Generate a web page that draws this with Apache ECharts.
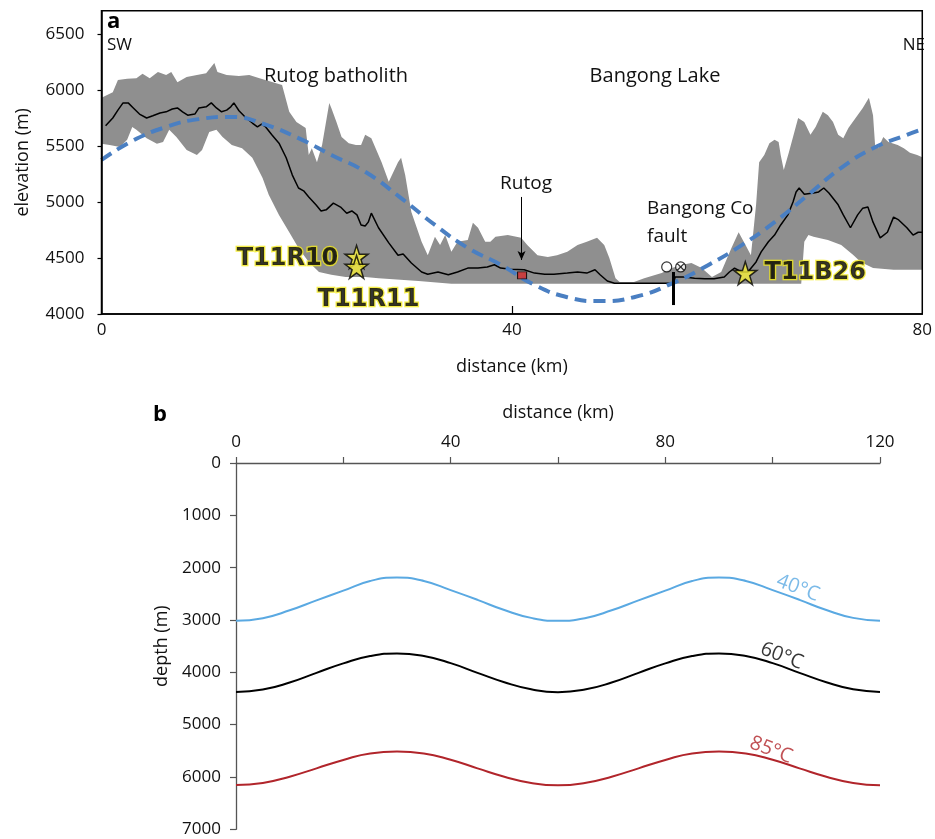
<!DOCTYPE html>
<html>
<head>
<meta charset="utf-8">
<script src="https://cdn.jsdelivr.net/npm/echarts@6/dist/echarts.min.js"></script>
<style>
html, body { margin: 0; padding: 0; background: #fff; }
#chart { width: 935px; height: 839px; }
</style>
</head>
<body>
<div id="chart"></div>
<script>
// ---------- Panel a: topographic swath profile (distance km, elevation m) ----------
const swathMax = [
  [0,5930],[1.1,5980],[1.6,6090],[2.5,6100],[3.4,6105],[4.0,6145],[4.7,6105],[5.5,6160],[6.3,6135],
  [6.8,6160],[7.4,6070],[8.3,6115],[9.3,6135],[10.2,6150],[11.0,6240],[11.3,6160],[12.2,6135],
  [13.4,6125],[14.4,6135],[15.4,6105],[17.6,6045],[18.3,5805],[19.0,5715],[19.9,5660],[20.2,5420],
  [20.5,5480],[21.0,5355],[21.5,5510],[22.2,5885],[22.4,5840],[22.9,5715],[23.4,5580],[24.1,5525],
  [24.8,5510],[25.3,5510],[25.7,5600],[26.3,5570],[27.3,5355],[28.0,5180],[28.9,5355],[29.2,5395],
  [29.6,5240],[30.2,4910],[31.2,4645],[31.8,4525],[32.5,4690],[33.0,4615],[33.5,4705],[34.1,4555],
  [34.7,4645],[35.7,4660],[36.2,4815],[36.7,4770],[37.4,4645],[37.9,4645],[38.4,4690],[39.6,4705],
  [40.9,4680],[41.5,4615],[42.5,4525],[43.5,4510],[44.4,4525],[45.4,4555],[46.4,4615],[47.3,4645],
  [48.3,4680],[49.0,4615],[49.5,4500],[50.1,4320],[50.5,4285],[51.9,4285],[52.9,4320],[54.6,4365],
  [55.6,4410],[56.6,4440],[57.5,4455],[58.5,4410],[59.5,4330],[60.4,4375],[61.4,4590],[62.1,4730],
  [62.6,4645],[63.3,4525],[63.8,4975],[64.1,5355],[64.6,5420],[65.1,5525],[65.6,5555],[66.0,5535],
  [66.2,5420],[66.5,5285],[67.0,5445],[67.9,5750],[68.5,5715],[69.1,5600],[69.6,5670],[70.3,5805],
  [70.8,5775],[71.3,5715],[71.8,5600],[72.3,5570],[72.8,5660],[73.5,5750],[74.2,5840],[74.8,5930],
  [75.2,5775],[75.4,5510],[75.7,5480],[76.2,5580],[76.7,5535],[77.6,5510],[78.2,5480],[78.8,5440],
  [79.5,5420],[80,5400]
];
const swathMin = [
  [0,5520],[0.8,5510],[1.8,5490],[2.5,5555],[3.0,5670],[3.4,5645],[4.4,5570],[5.4,5520],[6.0,5535],
  [6.6,5645],[7.3,5580],[8.3,5465],[9.3,5420],[9.8,5465],[10.5,5625],[11.2,5645],[11.8,5580],
  [12.7,5510],[13.7,5480],[14.7,5395],[15.7,5215],[16.3,5065],[17.3,4885],[18.3,4730],[19.2,4590],
  [20.2,4465],[21.2,4375],[22.4,4350],[23.8,4330],[25.7,4330],[27.0,4320],[30.9,4295],[34.1,4270],
  [68.2,4270],[68.5,4645],[68.9,4705],[69.4,4690],[70.8,4660],[72.1,4615],[73.3,4525],[74.0,4465],
  [75.2,4410],[77.2,4395],[80,4395]
];
const swathMean = [
  [0.4,5680],[1.1,5750],[1.6,5820],[2.1,5885],[2.6,5885],[3.1,5840],[3.7,5785],[4.4,5750],[5.0,5770],
  [5.7,5795],[6.3,5805],[6.9,5830],[7.4,5840],[7.9,5805],[8.4,5775],[9.1,5785],[9.5,5840],[10.2,5850],
  [10.7,5885],[11.2,5840],[11.7,5805],[12.2,5820],[12.6,5850],[12.9,5885],[13.4,5815],[14.1,5750],
  [14.7,5705],[15.2,5670],[15.6,5695],[16.0,5670],[16.6,5600],[17.3,5525],[18.0,5395],[18.6,5240],
  [19.2,5125],[19.7,5100],[20.2,5045],[20.9,4975],[21.4,4920],[21.9,4930],[22.6,4990],[23.3,4955],
  [23.9,4900],[24.4,4920],[24.9,4885],[25.3,4795],[25.7,4785],[26.0,4820],[26.3,4900],[27.0,4770],
  [28.0,4635],[28.9,4525],[29.4,4535],[30.2,4455],[31.2,4375],[31.8,4355],[32.8,4375],[33.8,4350],
  [34.7,4375],[35.7,4410],[36.7,4410],[37.6,4420],[38.3,4440],[38.9,4410],[39.9,4400],[41.2,4395],
  [42.2,4365],[43.2,4355],[44.1,4355],[45.4,4365],[46.4,4375],[47.3,4365],[48.1,4395],[48.6,4350],
  [49.3,4295],[50.0,4275],[55.8,4275],[55.9,4330],[56.8,4330],[57.8,4320],[58.8,4315],[59.7,4315],
  [60.7,4330],[61.2,4375],[61.7,4410],[62.4,4375],[63.0,4375],[63.8,4465],[64.3,4555],[65.0,4645],
  [65.6,4705],[66.2,4795],[66.9,4885],[67.4,5000],[67.7,5090],[68.0,5125],[68.5,5070],[69.4,5080],
  [69.9,5090],[70.4,5125],[70.9,5080],[71.8,4975],[72.3,4885],[73.0,4770],[73.7,4885],[74.2,4945],
  [74.7,4955],[75.2,4820],[75.9,4680],[76.6,4730],[77.2,4865],[77.7,4840],[78.5,4770],[79.1,4705],
  [79.6,4730],[80,4730]
];
const wavyLine = [
  [0,5375],[3.0,5545],[6.3,5670],[9.5,5740],[12.7,5760],[16.0,5690],[19.2,5570],[22.4,5420],
  [25.7,5270],[29.2,5035],[32.5,4795],[35.7,4590],[38.9,4440],[42.2,4260],[45.4,4150],[48.6,4115],
  [51.9,4150],[55.9,4285],[59.2,4440],[62.4,4615],[65.6,4820],[68.9,5065],[72.1,5305],[75.2,5480],
  [78.5,5600],[80,5650]
];
// samples: name, distance, elevation
const samples = [
  ['T11R10', 24.86, 4510],
  ['T11R11', 24.86, 4420],
  ['T11B26', 62.75, 4365]
];
const samplingBox = [[23.69, 5172], [25.95, 4274]];
const rutogTown = [40.99, 4345];
const faultTrace = [[55.77, 4375], [55.77, 4080]];
const rutogArrow = [[40.94, 5045], [40.94, 4482]];
const faultSense = [[55.09, 4420], [56.45, 4420]];
const elevTicks = [4000, 4500, 5000, 5500, 6000, 6500];
const distTicksA = [0, 40, 80];

// ---------- Panel b: isotherm depths (distance km, depth m) ----------
const distB = [0,5,10,15,20,25,30,35,40,45,50,55,60,65,70,75,80,85,90,95,100,105,110,115,120];
const iso40 = [3015,2965,2815,2625,2440,2255,2190,2255,2430,2615,2810,2960,3015,2965,2815,2625,2440,2255,2190,2255,2430,2615,2810,2960,3015];
const iso60 = [4375,4330,4195,4010,3830,3690,3640,3690,3825,4010,4190,4325,4380,4330,4195,4010,3830,3690,3640,3690,3825,4010,4190,4325,4375];
const iso85 = [6155,6115,5995,5835,5675,5550,5515,5550,5670,5835,5995,6115,6160,6115,5995,5835,5675,5550,5515,5550,5670,5835,5995,6115,6160];
const isoLabels = [
  ['40°C', 104.7, 2389, '#5aa9e2'],
  ['60°C', 101.7, 3688, '#000000'],
  ['85°C', 99.7, 5484, '#b1252b']
];

const FONT = 'Open Sans';
const SAMPLE_FONT = 'DejaVu Sans';
const STAR = 'path://M50,0 L61.8,35.1 L98.9,35.1 L68.9,56.9 L80.3,91.9 L50,70.2 L19.7,91.9 L31.1,56.9 L1.1,35.1 L38.2,35.1 Z';
const OTIMES = 'path://M10,0 A10,10 0 1 1 9.99,0 Z M2.9,2.9 L17.1,17.1 M17.1,2.9 L2.9,17.1';

const chart = echarts.init(document.getElementById('chart'), null, { renderer: 'canvas' });

const labelPos = { 'T11R10': 'left', 'T11R11': 'bottom', 'T11B26': 'right' };
const labelOff = { 'T11R10': [-1, 2], 'T11R11': [12, 4], 'T11B26': [2, 0] };
const plain = v => String(v);

const option = {
  animation: false,
  textStyle: { fontFamily: FONT },
  grid: [
    { left: 101.5, top: 10.7, width: 825.5, height: 303.3, show: true, borderColor: '#000', borderWidth: 1.5, z: 10 },
    { left: 236, top: 463, width: 644, height: 366.3 }
  ],
  xAxis: [
    {
      type: 'value', gridIndex: 0, min: 0, max: 80, position: 'bottom', z: 10,
      axisLine: { lineStyle: { color: '#000', width: 1.5 } },
      axisTick: { inside: true, length: 8, customValues: [40], lineStyle: { color: '#000', width: 1.2 } },
      axisLabel: { customValues: distTicksA, margin: 8, fontSize: 17, color: '#111', fontFamily: FONT, formatter: plain },
      splitLine: { show: false },
      name: 'distance (km)', nameLocation: 'middle', nameGap: 44,
      nameTextStyle: { fontSize: 18, color: '#111', fontFamily: FONT }
    },
    {
      type: 'value', gridIndex: 1, min: 0, max: 120, interval: 40, position: 'top',
      axisLine: { lineStyle: { color: '#555', width: 1.3 } },
      axisTick: { length: 6, lineStyle: { color: '#555', width: 1.2 } },
      minorTick: { show: true, splitNumber: 2, length: 6, lineStyle: { color: '#555', width: 1.2 } },
      axisLabel: { margin: 12, fontSize: 17, color: '#111', fontFamily: FONT, formatter: plain },
      splitLine: { show: false },
      name: 'distance (km)', nameLocation: 'middle', nameGap: 41,
      nameTextStyle: { fontSize: 18, color: '#111', fontFamily: FONT }
    }
  ],
  yAxis: [
    {
      type: 'value', gridIndex: 0, min: 4000, max: 6708, interval: 500, z: 10,
      axisLine: { show: true, lineStyle: { color: '#000', width: 1.5 } },
      axisTick: { show: true, length: 4, customValues: elevTicks, lineStyle: { color: '#000', width: 1.2 } },
      axisLabel: {
        customValues: elevTicks, margin: 17, fontSize: 17, color: '#111', fontFamily: FONT,
        formatter: v => (v % 500 === 0 ? String(v) : '')
      },
      splitLine: { show: false },
      name: 'elevation (m)', nameLocation: 'middle', nameGap: 70, nameRotate: 90,
      nameTextStyle: { fontSize: 18, color: '#111', fontFamily: FONT }
    },
    {
      type: 'value', gridIndex: 1, min: 0, max: 7000, interval: 1000, inverse: true,
      axisLine: { show: true, lineStyle: { color: '#555', width: 1.3 } },
      axisTick: { show: true, length: 6, lineStyle: { color: '#555', width: 1.2 } },
      axisLabel: { margin: 15, fontSize: 17, color: '#111', fontFamily: FONT, formatter: plain },
      splitLine: { show: false },
      name: 'depth (m)', nameLocation: 'middle', nameGap: 64, nameRotate: 90,
      nameTextStyle: { fontSize: 18, color: '#111', fontFamily: FONT }
    }
  ],
  series: [
    {
      name: 'swath max', type: 'line', xAxisIndex: 0, yAxisIndex: 0, data: swathMax,
      symbol: 'none', silent: true, z: 1,
      lineStyle: { width: 0 }, areaStyle: { color: '#8f8f8f', opacity: 1, origin: 'start' }
    },
    {
      name: 'swath min', type: 'line', xAxisIndex: 0, yAxisIndex: 0, data: swathMin,
      symbol: 'none', silent: true, z: 2,
      lineStyle: { width: 0 }, areaStyle: { color: '#ffffff', opacity: 1, origin: 'start' }
    },
    {
      name: 'swath mean', type: 'line', xAxisIndex: 0, yAxisIndex: 0, data: swathMean,
      symbol: 'none', z: 3, lineStyle: { color: '#000', width: 1.5 },
      markArea: {
        silent: true,
        itemStyle: { color: 'rgba(0,0,0,0)', borderColor: '#000', borderWidth: 1.2 },
        data: [[{ coord: samplingBox[0] }, { coord: samplingBox[1] }]]
      },
      markLine: {
        silent: true, animation: false,
        label: { show: false },
        data: [
          [
            { coord: faultTrace[0], symbol: 'none', lineStyle: { color: '#000', width: 3, type: 'solid' } },
            { coord: faultTrace[1], symbol: 'none' }
          ],
          [
            { coord: rutogArrow[0], symbol: 'none', lineStyle: { color: '#000', width: 1, type: 'solid' } },
            { coord: rutogArrow[1], symbol: 'arrow', symbolSize: [6, 9] }
          ]
        ]
      }
    },
    {
      name: 'wave', type: 'line', xAxisIndex: 0, yAxisIndex: 0, data: wavyLine,
      symbol: 'none', smooth: true, z: 4,
      lineStyle: { color: '#4a7fc2', width: 4, type: [12, 7] }
    },
    {
      name: 'Rutog', type: 'scatter', xAxisIndex: 0, yAxisIndex: 0, z: 5,
      data: [rutogTown], symbol: 'rect', symbolSize: [9, 7],
      itemStyle: { color: '#d42a2a', borderColor: '#000', borderWidth: 1 }
    },
    {
      name: 'fault sense', type: 'scatter', xAxisIndex: 0, yAxisIndex: 0, z: 5,
      data: [
        { value: faultSense[0], symbol: 'circle' },
        { value: faultSense[1], symbol: OTIMES }
      ],
      symbolSize: 10,
      itemStyle: { color: '#fff', borderColor: '#000', borderWidth: 1.2 }
    },
    {
      name: 'samples', type: 'scatter', xAxisIndex: 0, yAxisIndex: 0, z: 6,
      symbol: STAR, symbolSize: 23,
      itemStyle: { color: '#f6ee3a', borderColor: '#000', borderWidth: 1.5 },
      data: samples.map(s => ({
        name: s[0], value: [s[1], s[2]],
        label: {
          show: true, formatter: s[0], position: labelPos[s[0]], distance: 5, offset: labelOff[s[0]],
          fontSize: 24, fontWeight: 'bold', fontFamily: SAMPLE_FONT, color: '#000',
          textBorderColor: '#f3ea1c', textBorderWidth: 2.5
        }
      }))
    },
    {
      name: '40°C', type: 'line', xAxisIndex: 1, yAxisIndex: 1, symbol: 'none', smooth: true,
      data: distB.map((d, i) => [d, iso40[i]]),
      lineStyle: { color: '#5aa9e2', width: 2 }
    },
    {
      name: '60°C', type: 'line', xAxisIndex: 1, yAxisIndex: 1, symbol: 'none', smooth: true,
      data: distB.map((d, i) => [d, iso60[i]]),
      lineStyle: { color: '#000', width: 2 }
    },
    {
      name: '85°C', type: 'line', xAxisIndex: 1, yAxisIndex: 1, symbol: 'none', smooth: true,
      data: distB.map((d, i) => [d, iso85[i]]),
      lineStyle: { color: '#b1252b', width: 2 }
    },
    {
      name: 'isotherm labels', type: 'scatter', xAxisIndex: 1, yAxisIndex: 1, z: 6,
      symbolSize: 1, itemStyle: { color: 'rgba(0,0,0,0)' },
      data: isoLabels.map(t => ({
        value: [t[1], t[2]],
        label: {
          show: true, formatter: t[0], position: 'inside', rotate: -21,
          fontSize: 20, fontFamily: FONT, color: t[3]
        }
      }))
    }
  ],
  graphic: [
    { type: 'text', x: 107, y: 22, style: { text: 'a', font: 'bold 22px "' + FONT + '"', fill: '#000', verticalAlign: 'middle' } },
    { type: 'text', x: 107, y: 45, style: { text: 'SW', font: '17px "' + FONT + '"', fill: '#111', verticalAlign: 'middle' } },
    { type: 'text', x: 925, y: 45, style: { text: 'NE', font: '17px "' + FONT + '"', fill: '#111', align: 'right', verticalAlign: 'middle' } },
    { type: 'text', x: 336, y: 76, style: { text: 'Rutog batholith', font: '20px "' + FONT + '"', fill: '#111', align: 'center', verticalAlign: 'middle' } },
    { type: 'text', x: 655, y: 76, style: { text: 'Bangong Lake', font: '20px "' + FONT + '"', fill: '#111', align: 'center', verticalAlign: 'middle' } },
    { type: 'text', x: 526, y: 184, style: { text: 'Rutog', font: '19px "' + FONT + '"', fill: '#111', align: 'center', verticalAlign: 'middle' } },
    { type: 'text', x: 647, y: 209, style: { text: 'Bangong Co', font: '19px "' + FONT + '"', fill: '#111', verticalAlign: 'middle' } },
    { type: 'text', x: 647, y: 237, style: { text: 'fault', font: '19px "' + FONT + '"', fill: '#111', verticalAlign: 'middle' } },
    { type: 'text', x: 153, y: 415, style: { text: 'b', font: 'bold 22px "' + FONT + '"', fill: '#000', verticalAlign: 'middle' } }
  ]
};

chart.setOption(option);
</script>
</body>
</html>
